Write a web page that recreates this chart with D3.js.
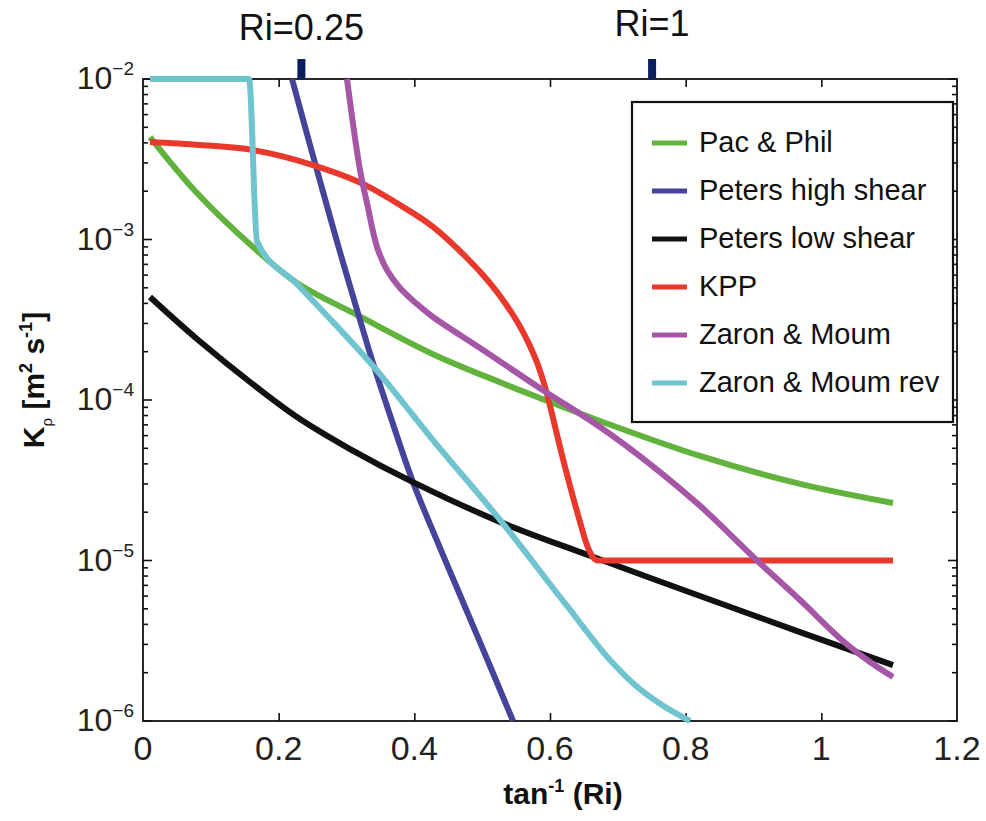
<!DOCTYPE html>
<meta charset="utf-8">
<script src="https://cdn.jsdelivr.net/npm/d3@7"></script>
<style>
body {margin: 0; background: #fff;}
text {font-family: "Liberation Sans", Arial, sans-serif; fill: #111;}
.axis path, .axis line {stroke: #111; stroke-width: 1.6;}
.series {fill: none; stroke-width: 6; stroke-linejoin: round;}
</style>

<div id="vis"></div>

<script>

// Series: [tan^-1(Ri), K_rho]
const pacPhil = [[0.0103, 4.35e-3], [0.0796, 1.95e-3], [0.1622, 8.98e-4], [0.2270, 5.36e-4],
  [0.3155, 3.39e-4], [0.4275, 1.93e-4], [0.5263, 1.29e-4], [0.6000, 9.72e-5],
  [0.6737, 7.40e-5], [0.8211, 4.48e-5], [0.9686, 3.00e-5], [1.1057, 2.28e-5]];
const petersHigh = [[0.2197, 1e-2], [0.2462, 3.88e-3], [0.2654, 1.98e-3], [0.2904, 8.36e-4],
  [0.3155, 3.64e-4], [0.3376, 1.78e-4], [0.3641, 8.06e-5], [0.3980, 3.08e-5],
  [0.4378, 1.20e-5], [0.4717, 5.51e-6], [0.5116, 2.20e-6], [0.5455, 1e-6]];
const petersLow = [[0.0103, 4.38e-4], [0.0796, 2.40e-4], [0.1769, 1.12e-4], [0.2314, 7.61e-5],
  [0.3052, 4.95e-5], [0.3980, 3.08e-5], [0.5263, 1.74e-5], [0.6590, 1.07e-5],
  [0.8211, 6.01e-6], [0.9686, 3.58e-6], [1.1057, 2.23e-6]];
const kpp = [[0.0103, 4.05e-3], [0.0840, 3.88e-3], [0.1622, 3.61e-3], [0.2506, 2.91e-3],
  [0.3243, 2.22e-3], [0.3789, 1.64e-3], [0.4275, 1.20e-3], [0.4776, 7.67e-4],
  [0.5012, 6.01e-4], [0.5263, 4.45e-4], [0.5484, 3.24e-4], [0.5676, 2.30e-4],
  [0.5823, 1.65e-4], [0.5941, 1.15e-4], [0.6044, 7.72e-5], [0.6147, 5.10e-5],
  [0.6295, 2.91e-5], [0.6442, 1.74e-5], [0.6545, 1.25e-5], [0.6619, 1.07e-5],
  [0.6708, 1e-5], [1.1057, 1e-5]];
const zaronMoum = [[0.3007, 1e-2], [0.3199, 2.71e-3], [0.3302, 1.69e-3], [0.3450, 8.98e-4],
  [0.3597, 6.46e-4], [0.3789, 4.99e-4], [0.4039, 3.96e-4], [0.4275, 3.29e-4],
  [0.5012, 2.05e-4], [0.5897, 1.15e-4], [0.6737, 6.79e-5], [0.7474, 3.99e-5],
  [0.8211, 2.19e-5], [0.9052, 1e-5], [0.9686, 5.67e-6], [1.0319, 3.15e-6],
  [1.0718, 2.33e-6], [1.1057, 1.88e-6]];
const zaronMoumRev = [[0.0103, 1e-2], [0.1563, 1e-2], [0.1681, 9.7e-4], [0.2270, 5.28e-4],
  [0.2830, 2.97e-4], [0.3391, 1.63e-4], [0.4275, 5.63e-5], [0.5263, 1.79e-5],
  [0.6251, 5.21e-6], [0.6885, 2.40e-6], [0.7224, 1.72e-6], [0.7622, 1.28e-6], [0.8064, 1e-6]];

const seriesNames = ["Pac & Phil", "Peters high shear", "Peters low shear", "KPP",
  "Zaron & Moum", "Zaron & Moum rev"];
const seriesColors = ["#62b33e", "#46449a", "#111111", "#e8392c", "#a656a6", "#6fc4cf"];
const seriesData = [pacPhil, petersHigh, petersLow, kpp, zaronMoum, zaronMoumRev];

const xTicks = [0, 0.2, 0.4, 0.6, 0.8, 1, 1.2];
const yExponents = [-6, -5, -4, -3, -2];
const riMarks = [{label: "Ri=0.25", x: 0.2335, ty: 40}, {label: "Ri=1", x: 0.7505, ty: 36}];

// Size and plot box
const w = 986, h = 821;
const box = {left: 143, right: 957, top: 79, bottom: 721};

let svg = d3.select("#vis").append("svg")
  .attr("width", w)
  .attr("height", h);

let x = d3.scaleLinear().domain([0, 1.2]).range([box.left, box.right]);
let y = d3.scaleLog().domain([1e-6, 1e-2]).range([box.bottom, box.top]);

svg.append("clipPath").attr("id", "plot")
  .append("rect")
  .attr("x", box.left).attr("y", box.top - 4)
  .attr("width", box.right - box.left).attr("height", box.bottom - box.top + 8);

// minor + major log ticks
const yAll = [];
for (let e = -6; e < -2; e++) {
  for (let m = 1; m < 10; m++) yAll.push(m * Math.pow(10, e));
}
yAll.push(1e-2);
const isMajor = v => Math.abs(Math.log10(v) - Math.round(Math.log10(v))) < 1e-9;

// x axes (ticks inward)
svg.append("g").attr("class", "axis")
  .attr("transform", "translate(0," + box.bottom + ")")
  .call(d3.axisBottom(x).tickValues(xTicks.slice(1, -1)).tickSize(-8).tickFormat(""))
  .call(g => g.select(".domain").remove());
svg.append("g").attr("class", "axis")
  .attr("transform", "translate(0," + box.top + ")")
  .call(d3.axisTop(x).tickValues(xTicks.slice(1, -1)).tickSize(-8).tickFormat(""))
  .call(g => g.select(".domain").remove());

// y ticks left & right
[[box.left, 1], [box.right, -1]].forEach(([px, dir]) => {
  svg.append("g").attr("class", "axis")
    .selectAll("line")
    .data(yAll)
    .enter().append("line")
      .attr("x1", px)
      .attr("x2", d => px + dir * (isMajor(d) ? 9 : 5))
      .attr("y1", d => y(d))
      .attr("y2", d => y(d));
});

// frame
svg.append("rect")
  .attr("x", box.left).attr("y", box.top)
  .attr("width", box.right - box.left).attr("height", box.bottom - box.top)
  .attr("fill", "none").attr("stroke", "#111").attr("stroke-width", 1.8);

// x tick labels
svg.selectAll(".xlab")
  .data(xTicks)
  .enter().append("text")
    .attr("class", "xlab")
    .attr("x", d => x(d))
    .attr("y", box.bottom + 39)
    .attr("text-anchor", "middle")
    .style("font-size", "34px")
    .style("fill", "#222")
    .text(d => d);

// y tick labels 10^e
let yl = svg.selectAll(".ylab")
  .data(yExponents)
  .enter().append("text")
    .attr("class", "ylab")
    .attr("x", box.left - 9)
    .attr("y", d => y(Math.pow(10, d)) + 10)
    .attr("text-anchor", "end")
    .style("fill", "#222");
yl.append("tspan").style("font-size", "32px").text("10");
yl.append("tspan").style("font-size", "19px").attr("dy", -14).text(d => "\u2212" + (-d));

// lines: smooth spline, monotone for the ones with a sharp corner (KPP, rev)
const smooth = d3.line()
  .x(d => x(d[0]))
  .y(d => y(d[1]))
  .curve(d3.curveCatmullRom.alpha(0.5));
const cornered = d3.line()
  .x(d => x(d[0]))
  .y(d => y(d[1]))
  .curve(d3.curveMonotoneX);

svg.append("g").attr("clip-path", "url(#plot)")
  .selectAll(".series")
  .data(seriesData)
  .enter().append("path")
    .attr("class", "series")
    .attr("stroke", (d, i) => seriesColors[i])
    .attr("d", (d, i) => (i === 3 || i === 5) ? cornered(d) : smooth(d));

// Ri markers
svg.selectAll(".rim")
  .data(riMarks)
  .enter().append("rect")
    .attr("class", "rim")
    .attr("x", d => x(d.x) - 4)
    .attr("y", box.top - 20)
    .attr("width", 8)
    .attr("height", 20)
    .attr("fill", "#0b1f5e");
svg.selectAll(".rit")
  .data(riMarks)
  .enter().append("text")
    .attr("x", d => x(d.x))
    .attr("y", d => d.ty)
    .attr("text-anchor", "middle")
    .style("font-size", "36px")
    .text(d => d.label);

// legend
let lg = svg.append("g");
lg.append("rect")
  .attr("x", 632).attr("y", 102)
  .attr("width", 321).attr("height", 320)
  .attr("fill", "#fff").attr("stroke", "#111").attr("stroke-width", 2.2);
seriesNames.forEach((name, i) => {
  const ly = 143 + i * 48;
  lg.append("line")
    .attr("x1", 652).attr("x2", 687)
    .attr("y1", ly).attr("y2", ly)
    .attr("stroke", seriesColors[i]).attr("stroke-width", 5);
  lg.append("text")
    .attr("x", 699).attr("y", ly + 9)
    .style("font-size", "29px")
    .text(name);
});

// axis titles
let xt = svg.append("text")
  .attr("x", 563).attr("y", 804)
  .attr("text-anchor", "middle")
  .style("font-size", "30px").style("font-weight", "bold");
xt.append("tspan").text("tan");
xt.append("tspan").attr("dy", -12).style("font-size", "18px").text("-1");
xt.append("tspan").attr("dy", 12).text(" (Ri)");

let ytt = svg.append("text")
  .attr("transform", "translate(44,380) rotate(-90)")
  .attr("text-anchor", "middle")
  .style("font-size", "30px").style("font-weight", "bold");
ytt.append("tspan").text("K");
ytt.append("tspan").attr("dy", 8).style("font-size", "15px").style("font-weight", "normal").text("\u03c1");
ytt.append("tspan").attr("dy", -8).text(" [m");
ytt.append("tspan").attr("dy", -12).style("font-size", "18px").text("2");
ytt.append("tspan").attr("dy", 12).text(" s");
ytt.append("tspan").attr("dy", -12).style("font-size", "18px").text("-1");
ytt.append("tspan").attr("dy", 12).text("]");

</script>
